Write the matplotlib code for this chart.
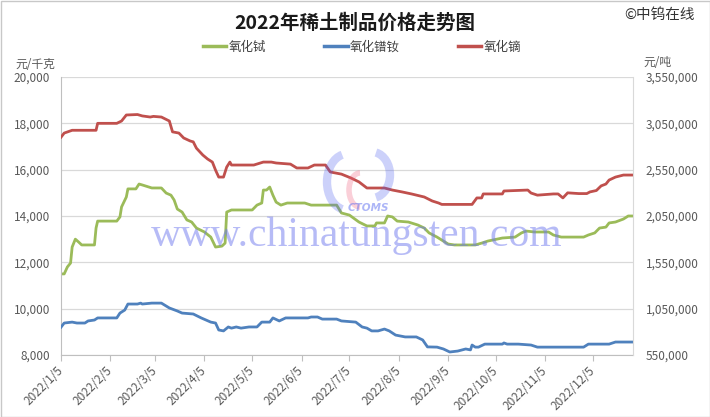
import matplotlib
matplotlib.use("Agg")
import matplotlib.pyplot as plt
import matplotlib.ticker as mticker
from matplotlib.lines import Line2D
from matplotlib.patches import Rectangle, Arc
import pandas as pd

plt.rcParams["font.family"] = ["Noto Sans CJK SC", "DejaVu Sans"]

# 氧化铽 terbium oxide, 元/千克 (left axis)
tb_dates = ["01-05", "01-07", "01-09", "01-11", "01-12", "01-14", "01-16", "01-18", "01-26", "01-27",
            "01-28", "02-09", "02-11", "02-12", "02-15", "02-16", "02-21", "02-23", "02-25", "03-03",
            "03-09", "03-12", "03-15", "03-17", "03-19", "03-22", "03-25", "03-28", "03-31", "04-05",
            "04-09", "04-12", "04-16", "04-18", "04-19", "04-22", "05-03", "05-05", "05-08", "05-11",
            "05-12", "05-14", "05-16", "05-18", "05-20", "05-23", "05-27", "06-07", "06-11", "06-27",
            "06-30", "07-05", "07-11", "07-16", "07-21", "07-22", "07-27", "07-29", "08-01", "08-04",
            "08-11", "08-17", "08-21", "08-24", "08-29", "09-01", "09-05", "09-09", "09-22", "09-26",
            "09-30", "10-09", "10-17", "10-21", "10-24", "10-29", "11-07", "11-10", "11-15", "11-29",
            "12-02", "12-06", "12-09", "12-13", "12-15", "12-19", "12-24", "12-27", "12-30"]
tb_price = [11500, 11500, 11800, 11970, 12660, 13000, 12880, 12750, 12750, 13480,
            13780, 13780, 13960, 14390, 14820, 15170, 15170, 15380, 15340, 15210,
            15210, 14990, 14900, 14690, 14300, 14170, 13830, 13740, 13480, 13310,
            13090, 12660, 12700, 12830, 14170, 14260, 14260, 14260, 14470, 14560,
            15120, 15120, 15250, 14900, 14600, 14470, 14560, 14560, 14470, 14470,
            14130, 14040, 13740, 13570, 13570, 13700, 13700, 14000, 13960, 13780,
            13740, 13610, 13480, 13270, 13090, 12960, 12790, 12750, 12750, 12830,
            12920, 13050, 13090, 13270, 13350, 13310, 13310, 13180, 13090, 13090,
            13180, 13270, 13480, 13520, 13700, 13740, 13870, 14000, 14000]

# 氧化镨钕 PrNd oxide, 元/吨 (right axis)
prnd_dates = ["01-05", "01-07", "01-12", "01-15", "01-20", "01-22", "01-26", "01-28", "02-09", "02-11",
              "02-14", "02-16", "02-22", "02-24", "02-25", "03-03", "03-09", "03-14", "03-19", "03-22",
              "03-29", "04-03", "04-09", "04-12", "04-14", "04-17", "04-20", "04-22", "04-25", "04-28",
              "05-03", "05-08", "05-11", "05-16", "05-18", "05-22", "05-26", "06-09", "06-11", "06-15",
              "06-18", "06-27", "06-30", "07-09", "07-13", "07-16", "07-19", "07-23", "07-27", "07-30",
              "08-03", "08-09", "08-16", "08-20", "08-23", "08-29", "09-02", "09-06", "09-11", "09-16",
              "09-19", "09-20", "09-22", "09-24", "09-28", "10-09", "10-10", "10-12", "10-19", "10-27",
              "10-31", "11-29", "12-02", "12-15", "12-19", "12-30"]
prnd_price = [850000, 895000, 905000, 895000, 895000, 917500, 927500, 950000, 950000, 1002500,
              1035000, 1100000, 1100000, 1110000, 1100000, 1110000, 1110000, 1057500, 1025000, 1002500,
              992500, 950000, 905000, 895000, 820000, 810000, 852500, 840000, 852500, 840000,
              852500, 852500, 905000, 905000, 950000, 917500, 950000, 950000, 960000, 960000,
              937500, 937500, 917500, 905000, 852500, 840000, 810000, 810000, 830000, 810000,
              765000, 745000, 745000, 712500, 637500, 635000, 615000, 582500, 592500, 615000,
              605000, 657500, 635000, 635000, 667500, 667500, 680000, 667500, 667500, 657500,
              635000, 635000, 667500, 667500, 690000, 690000]

# 氧化镝 dysprosium oxide, 元/吨 (right axis)
dy_dates = ["01-05", "01-07", "01-12", "01-27", "01-28", "02-09", "02-12", "02-15", "02-22", "02-25",
            "03-02", "03-04", "03-09", "03-14", "03-16", "03-20", "03-23", "03-27", "03-29", "03-31",
            "04-04", "04-07", "04-10", "04-12", "04-14", "04-17", "04-19", "04-21", "04-22", "05-03",
            "05-06", "05-12", "05-17", "05-20", "05-29", "06-02", "06-09", "06-13", "06-20", "06-23",
            "06-30", "07-06", "07-11", "07-16", "07-27", "08-01", "08-07", "08-13", "08-21", "08-26",
            "08-30", "09-01", "09-20", "09-23", "09-26", "09-27", "10-09", "10-10", "10-25", "10-27",
            "10-31", "11-10", "11-13", "11-16", "11-19", "11-26", "12-01", "12-03", "12-07", "12-10",
            "12-13", "12-15", "12-19", "12-24", "12-30"]
dy_price = [2900000, 2945000, 2975000, 2975000, 3050000, 3050000, 3075000, 3140000, 3145000, 3130000,
            3118000, 3125000, 3118000, 3075000, 2958000, 2945000, 2892000, 2860000, 2850000, 2782000,
            2708000, 2665000, 2632000, 2545000, 2470000, 2470000, 2578000, 2632000, 2600000, 2600000,
            2600000, 2632000, 2632000, 2622000, 2610000, 2568000, 2568000, 2600000, 2600000, 2525000,
            2502000, 2460000, 2418000, 2352000, 2352000, 2330000, 2310000, 2288000, 2255000, 2212000,
            2190000, 2175000, 2175000, 2245000, 2245000, 2288000, 2288000, 2320000, 2330000, 2298000,
            2275000, 2288000, 2288000, 2245000, 2300000, 2292000, 2292000, 2310000, 2325000, 2375000,
            2395000, 2438000, 2470000, 2492000, 2492000]

months = list(range(1, 13))
names = ["氧化铽", "氧化镨钕", "氧化镝"]
colors = ["#9bbb59", "#4f81bd", "#c0504d"]


def to_dates(days):
    return pd.to_datetime(["2022-" + d for d in days])


W, H = 710, 417
fig = plt.figure(figsize=(W / 100, H / 100), dpi=100)
ax = fig.add_axes([61 / W, 1 - 355 / H, (633 - 61) / W, (355 - 77) / H])
ax2 = ax.twinx()

ax.plot(to_dates(tb_dates), tb_price, color=colors[0], lw=2.0, solid_joinstyle="round")
ax2.plot(to_dates(prnd_dates), prnd_price, color=colors[1], lw=2.0, solid_joinstyle="round")
ax2.plot(to_dates(dy_dates), dy_price, color=colors[2], lw=2.0, solid_joinstyle="round")

ax.set_xlim(pd.Timestamp("2022-01-05"), pd.Timestamp("2022-12-30"))
ax.set_ylim(8000, 20000)
ax2.set_ylim(550000, 3550000)
ax.set_yticks(range(8000, 20001, 2000))
ax2.set_yticks(range(550000, 3550001, 500000))
fmt = mticker.FuncFormatter(lambda v, _: f"{v:,.0f}")
ax.yaxis.set_major_formatter(fmt)
ax2.yaxis.set_major_formatter(fmt)

ax.set_xticks(pd.to_datetime([f"2022-{m:02d}-05" for m in months]))
ax.set_xticklabels([f"2022/{m}/5" for m in months], rotation=45,
                   ha="right", va="center", rotation_mode="anchor")

ax.yaxis.grid(True, color="#d9d9d9", lw=0.9)
ax.set_axisbelow(True)
for s in ["top", "right"]:
    ax.spines[s].set_visible(False)
ax.spines["left"].set_color("#bfbfbf")
ax.spines["bottom"].set_color("#bfbfbf")
for s in ["top", "left", "bottom"]:
    ax2.spines[s].set_visible(False)
ax2.spines["right"].set_color("#d9d9d9")

ax.tick_params(axis="y", length=0, pad=8, labelsize=8.5, labelcolor="#595959")
ax2.tick_params(axis="y", length=0, pad=9, labelsize=8.5, labelcolor="#595959")
ax.tick_params(axis="x", length=4, color="#bfbfbf", pad=6, labelsize=8.5, labelcolor="#595959")

# titles, units, legend
fig.text(0.5, 1 - 23 / H, "2022年稀土制品价格走势图", ha="center", va="center",
         fontsize=14, fontweight="bold", color="#1a1a1a")
fig.text(695 / W, 1 - 15 / H, "©中钨在线", ha="right", va="center", fontsize=10.5, color="#333333")
fig.text(15 / W, 1 - 65 / H, "元/千克", ha="left", va="center", fontsize=8.5, color="#595959")
fig.text(643 / W, 1 - 62 / H, "元/吨", ha="left", va="center", fontsize=8.5, color="#595959")

handles = [Line2D([], [], color=c, lw=2.5) for c in colors]
fig.legend(handles, names, loc="center", bbox_to_anchor=(362 / W, 1 - 47 / H), ncol=3,
           frameon=False, fontsize=9, handlelength=1.9, handletextpad=0.2,
           columnspacing=4.6, labelcolor="#404040")

# watermark
over = fig.add_axes([0, 0, 1, 1], facecolor="none")
over.set_xlim(0, W)
over.set_ylim(H, 0)
over.axis("off")
over.add_patch(Arc((347, 182), 40, 56, theta1=100, theta2=260, lw=6, color="#4a5cf0", alpha=0.28))
over.add_patch(Arc((360, 190), 22, 34, theta1=90, theta2=270, lw=4, color="#f06080", alpha=0.3))
over.add_patch(Arc((372, 175), 36, 46, theta1=-80, theta2=80, lw=6, color="#4a5cf0", alpha=0.28))
over.text(368, 208, "CTOMS", ha="center", va="center", fontsize=7.5, fontstyle="italic",
          fontweight="bold", color="#5a6cf0", alpha=0.5, family="DejaVu Sans")
over.text(357, 236, "www.chinatungsten.com", ha="center", va="center", fontsize=30,
          family="Liberation Serif", color="#6f78ee", alpha=0.5)
over.add_patch(Rectangle((0.5, 0.5), W - 1, H - 1, fill=False, edgecolor="#c8c8c8", lw=1))

fig.savefig("out.png", dpi=100)
plt.close(fig)
